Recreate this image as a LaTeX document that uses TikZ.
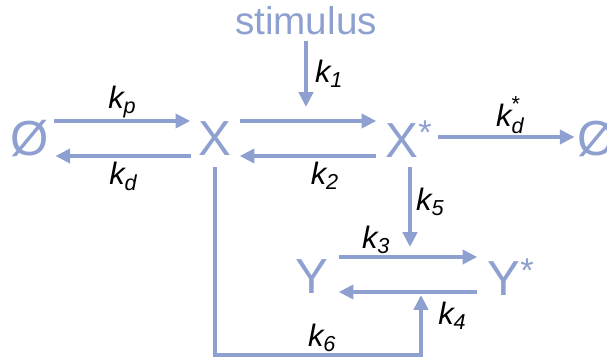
\documentclass[tikz,border=0pt]{standalone}
\usepackage{amsmath}
\usepackage{fontspec}
\setmainfont{Liberation Sans}
\usetikzlibrary{arrows.meta}
\definecolor{pathblue}{RGB}{141,160,207}
\newcommand{\krate}[1]{\ensuremath{\textit{k}_{\textit{#1}}}}
\newcommand{\kstar}[1]{\ensuremath{\textit{k}^{\textup{*}}_{\textit{#1}}}}

\begin{document}
\begin{tikzpicture}[x=0.025cm, y=-0.025cm,
    species/.style={text=pathblue, font=\fontsize{35}{35}\selectfont, inner sep=0pt},
    flow/.style={draw=pathblue, line width=2.8pt, -{Triangle[length=10.5pt,width=10pt]}}]
            \useasboundingbox (0,0) rectangle (607,362);
            \tikzset{every node/.append style={font=\fontsize{22}{22}\selectfont, inner sep=1pt}}

            % Draw species
            \node[species] (o1) at (30,139) {Ø};
            \node[species] (x) at (215,139) {X};
            \node[species] (xs) at (402,139) {X\rlap{\textsuperscript{*}}};
            \node[species] (o2) at (597,139) {Ø};
            \node[species] (y) at (312,277) {Y};
            \node[species] (ys) at (504,277) {Y\rlap{\textsuperscript{*}}};
            \node[species, font=\fontsize{27.5}{27.5}\selectfont] (stim) at (306,21) {stimulus};

            % Points where arrows meet other arrows
            \coordinate (r1) at (306,107);
            \coordinate (r3) at (410,247);
            \coordinate (r4) at (421,295);
            \coordinate (bend) at (421,355);

            % Connect species with arrows
            \draw[flow] ([shift={(5,-18)}]o1.east) -- ([shift={(-8,-18)}]x.west) node[midway, above] {\krate{p}};
            \draw[flow] ([shift={(-7,17)}]x.west) -- ([shift={(6,17)}]o1.east) node[midway, below, yshift=-2pt] {\krate{d}};
            \draw[flow] ([shift={(8,-18)}]x.east) -- ([shift={(-9,-18)}]xs.west);
            \draw[flow] ([shift={(-9,17)}]xs.west) -- ([shift={(8,17)}]x.east) node[midway, below, xshift=12pt, yshift=-2pt] {\krate{2}};
            \draw[flow] ([yshift=-4pt]stim.south) -- (r1) node[midway, right, xshift=4pt] {\krate{1}};
            \draw[flow] ([shift={(19,-2)}]xs.east) -- ([shift={(-3,-2)}]o2.west) node[midway, above, xshift=3pt] {\kstar{d}};
            \draw[flow] ([shift={(8,10)}]xs.south) -- (r3) node[midway, right, xshift=2pt, yshift=4pt] {\krate{5}};
            \draw[flow] ([shift={(10,-20)}]y.east) -- ([shift={(-10,-20)}]ys.west) node[pos=0.27, above] {\krate{3}};
            \draw[flow] ([shift={(-10,15)}]ys.west) -- ([shift={(10,15)}]y.east) node[pos=0.18, below, yshift=-5pt] {\krate{4}};
            \draw[flow] ([shift={(0,11)}]x.south) |- (bend) node[pos=0.76, above] {\krate{6}} -- (r4);
          \end{tikzpicture}
\end{document}
